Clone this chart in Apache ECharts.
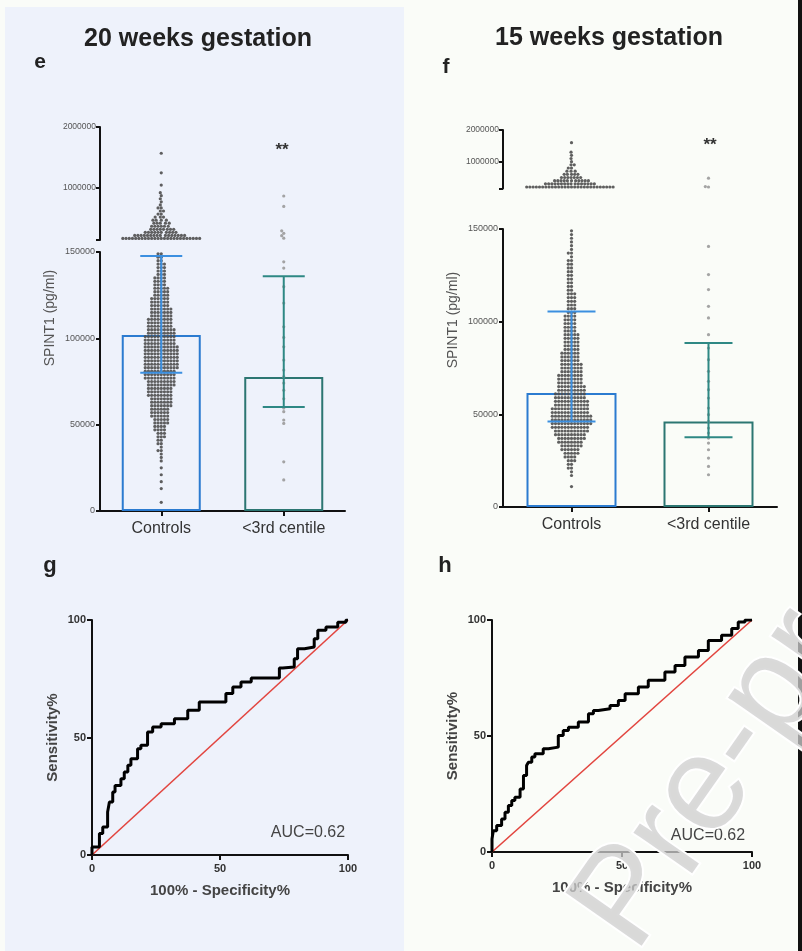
<!DOCTYPE html>
<html><head><meta charset="utf-8">
<script src="https://cdn.jsdelivr.net/npm/echarts@6/dist/echarts.min.js"></script>
<style>html,body{margin:0;padding:0;background:#fafcf8}#c{width:802px;height:951px}</style>
</head><body><div id="c"></div>
<script>
// ---------- data ----------
const categories = ['Controls', '<3rd centile'];

// panel e (20 weeks)
const eBarMeans = [102000, 77600];
const eErrLow = [80000, 60200];
const eErrHigh = [147700, 136000];
// panel f (15 weeks)
const fBarMeans = [61500, 46200];
const fErrLow = [46200, 37600];
const fErrHigh = [105500, 88500];

// beeswarm bins (pg/ml, thousands) for the lower segment 0-150000
const lowBinsK = [1,3,5,7,9,11,13,15,17,19,21,23,25,27,29,31,33,35,37,39,41,43,45,47,49,51,53,55,57,59,61,63,65,67,69,71,73,75,77,79,81,83,85,87,89,91,93,95,97,99,101,103,105,107,109,111,113,115,117,119,121,123,125,127,129,131,133,135,137,139,141,143,145,147,149];
const eCtrlLowCounts = [0,0,1,0,0, 0,1,0,1,0, 1,0,1,0,1, 1,1,2,1,2, 2,3,3,4,4, 5,5,6,6,6, 7,7,7,8,8, 8,9,9,10,10, 10,11,11,11,11, 11,11,11,10,10, 10,9,9,8,8, 8,7,7,7,6, 6,6,5,5,5, 4,4,4,3,3, 3,3,2,2,2];
const fCtrlLowCounts = [0,0,0,0,0, 1,0,0,1,1, 2,2,3,4,5, 6,7,8,9,10, 11,12,13,13,13, 12,12,11,11,10, 10,9,9,8,8, 8,7,7,7,6, 6,6,5,5,5, 5,5,4,4,4, 4,4,3,3,3, 3,3,3,2,2, 2,2,2,2,2, 2,2,1,2,1, 1,1,1,1,1];

// upper (compressed) segment 150000-2000000
const eCtrlUpBins = [175000,225000,275000,325000,375000,425000,475000,525000,575000,625000,675000,725000,775000,825000,875000,925000,1050000,1250000,1570000];
const eCtrlUpCounts = [25,16,10,8,6,5,4,3,2,2,2,1,1,1,1,1,1,1,1];
const fCtrlUpBins = [200000,300000,400000,500000,600000,700000,800000,900000,1000000,1100000,1200000,1300000,1600000];
const fCtrlUpCounts = [28,16,11,7,5,3,2,2,1,1,1,1,1];

// <3rd centile individual values
const eCaseLow = [18000,28500,50700,52700,57500,59600,65000,70000,74100,77800,81600,87400,95100,100500,106700,120400,129900,140700,144300];
const eCaseUp = [180000,220000,260000,300000,700000,870000];
const fCaseLow = [17400,21900,26400,30900,34500,37200,39900,42600,46200,49800,53400,58800,63300,67800,73200,79500,85800,93000,102000,108300,117300,125400,140600];
const fCaseUp = [200000,215000,480000];

// ROC curves (100% - specificity, sensitivity)
const gFpr = [0,0.3,2.9,4.2,6.1,6.8,8.1,9,11.3,12.6,14,15.2,17.8,19.1,21.7,23.7,27,32.2,37.4,41.9,45.2,52.3,55,58.2,62.2,65.4,73.2,74.5,79,80.3,83,86.8,88.2,91.4,96,99.2,100];
const gTpr = [0,3.4,3.4,9.1,11.9,18.3,22.6,26.8,29.6,32.5,35.3,38.2,41,45.2,46.7,52.3,54.5,55.9,58,61.6,65.1,65.1,68.7,71.5,73.6,75.3,75.3,79.6,80,83.5,87.8,88.5,92,95.6,97,99,100];
const hFpr = [0,0.5,1.8,3.7,5,6.3,7.6,8.8,10.8,12.1,13.3,14,15.3,16.5,19.7,21.7,25.5,27.4,29.4,33.2,37.1,39,40.9,45.4,48.6,51.2,56.3,60.1,66.5,70.4,74.2,79.4,83.2,88.3,92.2,94.7,97.3,100];
const hTpr = [0,5.6,9.2,11.4,14.2,17.1,20,22.2,23.6,27.2,33,37.3,38.7,40.9,42.3,44.5,45.2,50.2,52.4,53.8,56,59.6,61,61.7,63.2,65.3,68.2,71.1,74,77.6,80.4,84,86.9,91.2,93.4,96.3,99.1,100];
const diagonal = [[0,0],[100,100]];
const aucText = 'AUC=0.62';

// ---------- build ----------
const FONT = 'Liberation Sans';
const barColors = ['#2b7bd0', '#2c7672'];
const errColors = ['#3b8fe0', '#2e8884'];
const dotCtrl = '#4e4e4e', dotCase = '#9a9a9a';

function expandBins(cat, bins, counts, scale) {
  const out = [];
  bins.forEach((b, i) => { for (let k = 0; k < counts[i]; k++) out.push([cat, b * scale]); });
  return out;
}
function toPts(cat, vals) { return vals.map(v => [cat, v]); }
function zip(a, b) { return a.map((v, i) => [v, b[i]]); }
const plain = v => String(v);

function errRender(capHalf) {
  return function (params, api) {
    const x = api.value(0), lo = api.value(1), hi = api.value(2);
    const a = api.coord([x, lo]), b = api.coord([x, hi]);
    const c = errColors[params.dataIndex];
    const st = { stroke: c, lineWidth: 2 };
    return { type: 'group', children: [
      { type: 'line', shape: { x1: a[0], y1: a[1], x2: b[0], y2: b[1] }, style: st },
      { type: 'line', shape: { x1: a[0] - capHalf, y1: a[1], x2: a[0] + capHalf, y2: a[1] }, style: st },
      { type: 'line', shape: { x1: b[0] - capHalf, y1: b[1], x2: b[0] + capHalf, y2: b[1] }, style: st }
    ]};
  };
}

const axLine = { show: true, lineStyle: { color: '#111', width: 2 } };
const axTick = { show: true, length: 4, lineStyle: { color: '#111', width: 2 } };

function catAxis(grid, showLabels) {
  return {
    type: 'category', gridIndex: grid, data: categories,
    jitter: 90, jitterOverlap: false, jitterMargin: 0,
    show: showLabels,
    axisLine: axLine,
    axisTick: { show: true, alignWithLabel: true, length: 5, lineStyle: { color: '#111', width: 2 } },
    axisLabel: { color: '#333', fontSize: 16, fontFamily: FONT, margin: 10 }
  };
}
function upperY(grid) {
  return {
    type: 'value', gridIndex: grid, min: 150000, max: 2000000,
    splitLine: { show: false }, axisLine: axLine,
    axisTick: { show: true, length: 4, lineStyle: { color: '#111', width: 2 }, customValues: [150000, 1000000, 2000000] },
    axisLabel: { color: '#555', fontSize: 8.5, fontFamily: FONT, margin: 4, formatter: plain, customValues: [1000000, 2000000] }
  };
}
function lowerY(grid) {
  return {
    type: 'value', gridIndex: grid, min: 0, max: 150000, interval: 50000,
    splitLine: { show: false }, axisLine: axLine, axisTick: axTick,
    axisLabel: { color: '#555', fontSize: 9, fontFamily: FONT, margin: 5, formatter: plain }
  };
}
function rocX(grid) {
  return {
    type: 'value', gridIndex: grid, min: 0, max: 100, interval: 50,
    splitLine: { show: false }, axisLine: axLine,
    axisTick: { show: true, length: 5, lineStyle: { color: '#111', width: 2 } },
    axisLabel: { color: '#333', fontSize: 11, fontWeight: 'bold', fontFamily: FONT, margin: 8 },
    name: '100% - Specificity%', nameLocation: 'middle', nameGap: 28,
    nameTextStyle: { color: '#444', fontSize: 15, fontWeight: 'bold', fontFamily: FONT }
  };
}
function rocY(grid) {
  return {
    type: 'value', gridIndex: grid, min: 0, max: 100, interval: 50,
    splitLine: { show: false }, axisLine: axLine,
    axisTick: { show: true, length: 5, lineStyle: { color: '#111', width: 2 } },
    axisLabel: { color: '#333', fontSize: 11, fontWeight: 'bold', fontFamily: FONT, margin: 6 },
    name: 'Sensitivity%', nameLocation: 'middle', nameGap: 32,
    nameTextStyle: { color: '#444', fontSize: 15, fontWeight: 'bold', fontFamily: FONT }
  };
}

function barSeries(xi, means, width) {
  return {
    type: 'bar', xAxisIndex: xi, yAxisIndex: xi, barWidth: width, z: 1,
    data: means.map((v, i) => ({ value: v, itemStyle: { color: 'rgba(0,0,0,0)', borderColor: barColors[i], borderWidth: 2 } })),
    silent: true
  };
}
function errSeries(xi, lo, hi, capHalf) {
  return {
    type: 'custom', xAxisIndex: xi, yAxisIndex: xi, z: 5,
    renderItem: errRender(capHalf),
    encode: { x: 0, y: [1, 2] },
    data: lo.map((v, i) => [i, v, hi[i]])
  };
}
function dots(xi, data, color) {
  return { type: 'scatter', xAxisIndex: xi, yAxisIndex: xi, symbolSize: 3.2, z: 3,
    itemStyle: { color: color, opacity: 0.9 }, data: data, silent: true };
}

const series = [
  // e
  barSeries(1, eBarMeans, 79),
  dots(1, expandBins(0, lowBinsK, eCtrlLowCounts, 1000), dotCtrl),
  dots(1, toPts(1, eCaseLow), dotCase),
  errSeries(1, eErrLow, eErrHigh, 21),
  dots(0, expandBins(0, eCtrlUpBins, eCtrlUpCounts, 1), dotCtrl),
  dots(0, toPts(1, eCaseUp), dotCase),
  // f
  barSeries(3, fBarMeans, 90),
  dots(3, expandBins(0, lowBinsK, fCtrlLowCounts, 1000), dotCtrl),
  dots(3, toPts(1, fCaseLow), dotCase),
  errSeries(3, fErrLow, fErrHigh, 24),
  dots(2, expandBins(0, fCtrlUpBins, fCtrlUpCounts, 1), dotCtrl),
  dots(2, toPts(1, fCaseUp), dotCase),
  // g
  { type: 'line', xAxisIndex: 4, yAxisIndex: 4, data: diagonal, symbol: 'none', z: 2,
    lineStyle: { color: '#e2453f', width: 1.6 } },
  { type: 'line', xAxisIndex: 4, yAxisIndex: 4, data: zip(gFpr, gTpr), symbol: 'none', step: 'start', z: 3,
    lineStyle: { color: '#000', width: 3 } },
  // h
  { type: 'line', xAxisIndex: 5, yAxisIndex: 5, data: diagonal, symbol: 'none', z: 2,
    lineStyle: { color: '#e2453f', width: 1.6 } },
  { type: 'line', xAxisIndex: 5, yAxisIndex: 5, data: zip(hFpr, hTpr), symbol: 'none', step: 'start', z: 3,
    lineStyle: { color: '#000', width: 3 } }
];

function txt(x, y, text, size, weight, color, extra) {
  return Object.assign({ type: 'text', x: x, y: y, z: 50,
    style: { text: text, fontSize: size, fontWeight: weight, fontFamily: FONT, fill: color, align: 'center', verticalAlign: 'middle' } }, extra || {});
}

const option = {
  backgroundColor: '#fafcf8',
  animation: false,
  grid: [
    { left: 100, top: 127, width: 245, height: 113, outerBoundsMode: 'none' },
    { left: 100, top: 252, width: 245, height: 259, outerBoundsMode: 'none' },
    { left: 503, top: 130, width: 274, height: 58.6, outerBoundsMode: 'none' },
    { left: 503, top: 229, width: 274, height: 278, outerBoundsMode: 'none' },
    { left: 92, top: 620, width: 256, height: 235, outerBoundsMode: 'none' },
    { left: 492, top: 620, width: 260, height: 232, outerBoundsMode: 'none' }
  ],
  xAxis: [catAxis(0, false), catAxis(1, true), catAxis(2, false), catAxis(3, true), rocX(4), rocX(5)],
  yAxis: [upperY(0), lowerY(1), upperY(2), lowerY(3), rocY(4), rocY(5)],
  series: series,
  graphic: { elements: [
    { type: 'rect', shape: { x: 5, y: 7, width: 399, height: 944 }, style: { fill: '#eef2fb' }, z: -10, silent: true },
    { type: 'rect', shape: { x: 798, y: 0, width: 4, height: 951 }, style: { fill: '#111' }, z: -9, silent: true },
    txt(198, 39, '20 weeks gestation', 25, 'bold', '#222'),
    txt(609, 38, '15 weeks gestation', 25, 'bold', '#222'),
    txt(40, 62, 'e', 21, 'bold', '#222'),
    txt(446, 67, 'f', 21, 'bold', '#222'),
    txt(50, 566, 'g', 22, 'bold', '#222'),
    txt(445, 566, 'h', 22, 'bold', '#222'),
    txt(50, 318, 'SPINT1 (pg/ml)', 14, 'normal', '#555', { rotation: Math.PI / 2 }),
    txt(453, 320, 'SPINT1 (pg/ml)', 14, 'normal', '#555', { rotation: Math.PI / 2 }),
    txt(282, 150, '**', 17, 'bold', '#333'),
    txt(710, 145, '**', 17, 'bold', '#333'),
    txt(308, 833, aucText, 16, 'normal', '#444'),
    txt(708, 836, aucText, 16, 'normal', '#444'),
    { type: 'text', x: 660, y: 972, rotation: 55 * Math.PI / 180, z: 100, silent: true,
      style: { text: 'Pre-proof', fontSize: 135, fontFamily: FONT, fill: 'rgba(205,205,205,0.75)',
        stroke: '#ffffff', lineWidth: 4, align: 'left', verticalAlign: 'bottom' } }
  ]}
};

const chart = echarts.init(document.getElementById('c'), null, { renderer: 'canvas' });
chart.setOption(option);
</script>
</body></html>
